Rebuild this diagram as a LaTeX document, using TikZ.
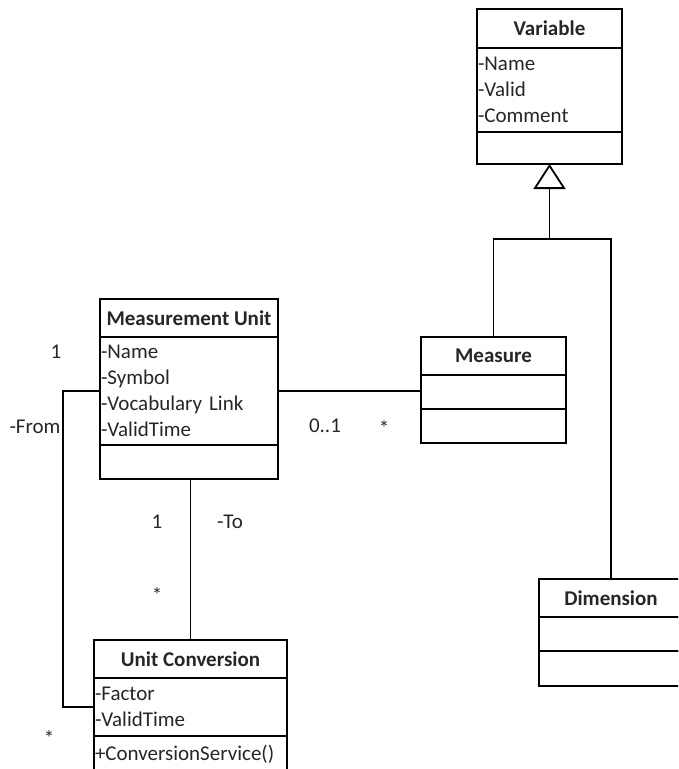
\documentclass[tikz,border=0pt]{standalone}
\usepackage{fontspec}
\setmainfont{Carlito}
\usepackage{tikz}
\usetikzlibrary{positioning,arrows.meta}
\definecolor{inkgrey}{HTML}{262626}
\tikzset{
  cls/.style={rectangle, draw=black, line width=1.8pt, outer sep=0pt,
              inner sep=0pt, text=inkgrey},
  hdr/.style={cls, font=\fontsize{21}{26}\selectfont\bfseries, minimum height=38pt},
  attr/.style={cls, font=\fontsize{21}{26}\selectfont, align=left,
               text width=#1, inner xsep=1pt},
  assoc/.style={line width=1.8pt, draw=black},
  mlbl/.style={font=\fontsize{21}{26}\selectfont, text=inkgrey, inner sep=1pt},
}

\begin{document}
\begin{tikzpicture}[x=1pt,y=-1pt]
  \useasboundingbox (0,0) rectangle (678,769);
  \clip (0,0) rectangle (678,769);

  % Variable
  \node[hdr, minimum width=145pt, minimum height=39pt, anchor=north west] (var) at (477,9) {Variable};
  \node[attr=143pt, minimum height=84pt, below=0pt of var] (var-a) {-Name\\-Valid\\-Comment};
  \node[attr=143pt, minimum height=32pt, below=0pt of var-a] (var-m) {};

  % Measurement Unit
  \node[hdr, minimum width=178pt, anchor=north west] (mu) at (100,299) {Measurement Unit};
  \node[attr=176pt, minimum height=108pt, below=0pt of mu] (mu-a) {-Name\\-Symbol\\-Vocabulary Link\\-ValidTime};
  \node[attr=176pt, minimum height=34pt, below=0pt of mu-a] (mu-m) {};

  % Measure
  \node[hdr, minimum width=145pt, anchor=north west] (meas) at (421,337) {Measure};
  \node[attr=143pt, minimum height=34pt, below=0pt of meas] (meas-a) {};
  \node[attr=143pt, minimum height=34pt, below=0pt of meas-a] (meas-m) {};

  % Dimension (runs off the right edge)
  \node[hdr, minimum width=160pt, anchor=north west] (dim) at (539,579) {\hspace*{-16pt}Dimension};
  \node[attr=158pt, minimum height=34pt, below=0pt of dim] (dim-a) {};
  \node[attr=158pt, minimum height=35pt, below=0pt of dim-a] (dim-m) {};

  % Unit Conversion (runs off the bottom edge)
  \node[hdr, minimum width=193pt, anchor=north west] (uc) at (94,640) {Unit Conversion};
  \node[attr=191pt, minimum height=58pt, below=0pt of uc] (uc-a) {-Factor\\-ValidTime};
  \node[attr=191pt, minimum height=36pt, below=0pt of uc-a] (uc-m) {+ConversionService()};

  % associations
  \draw[assoc] (mu-a.east) -- (mu-a.east -| meas-a.west);
  \draw[assoc] (mu-a.west) -- ++(-37,0) |- (uc-a.west);
  \draw[assoc] (uc.north) -- (uc.north |- mu-m.south);

  % generalisation
  \coordinate (gen) at (var-m.south |- 0,239);
  \draw[assoc] (meas.north) |- (gen) -| ([xshift=-8pt]dim.north);
  \draw[assoc, -{Triangle[open, length=25pt, width=32pt]}] (gen) -- (var-m.south);

  % multiplicities and roles
  \node[mlbl] (m-one) at (56,352) {1};
  \node[mlbl] (m-from) at (35,427) {-From};
  \node[mlbl] (m-opt) at (325,426) {0..1};
  \node[mlbl] (m-many) at (384,428) {*};
  \node[mlbl] (m-onetwo) at (157,522) {1};
  \node[mlbl] (m-to) at (230,522) {-To};
  \node[mlbl] (m-manytwo) at (157,595) {*};
  \node[mlbl] (m-manythree) at (49,738) {*};
\end{tikzpicture}
\end{document}
